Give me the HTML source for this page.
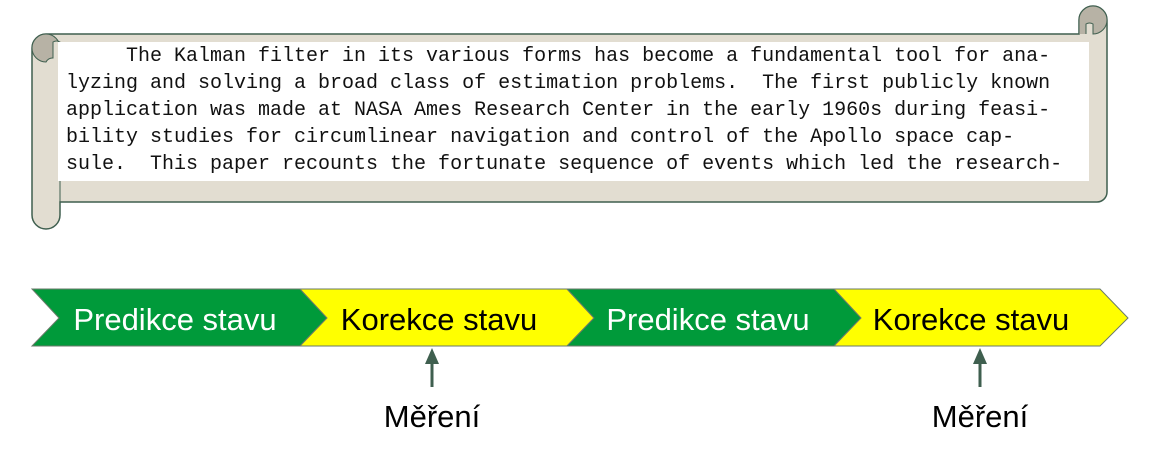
<!DOCTYPE html>
<html><head><meta charset="utf-8"><style>
html,body{margin:0;padding:0;background:#fff;width:1153px;height:454px;overflow:hidden}
svg{display:block}
</style></head><body>
<svg width="1153" height="454" viewBox="0 0 1153 454" xmlns="http://www.w3.org/2000/svg">
<path d="M1079,34 L1079,20 A14,14 0 0 1 1107,20 L1107,192 A10,10 0 0 1 1097,202 L60,202 L60,215 A14,14 0 0 1 32,215 L32,48 A14,14 0 0 1 46,34 Z" fill="#e2ddd1" stroke="#3f5f4f" stroke-width="1.5"/>
<path d="M1079,34 L1079,20 A14,14 0 0 1 1107,20 A14,14 0 0 1 1093,34 L1093,24 A7,7 0 0 0 1086,24 L1086,34" fill="#b7b2a5" stroke="#3f5f4f" stroke-width="1"/>
<path d="M60,202 L60,48" fill="none" stroke="#3f5f4f" stroke-width="1"/>
<path d="M46,62 A14,14 0 0 1 46,34 A14,14 0 0 1 60,48 L60,42 A7,7 0 0 0 53,42 L53,58 A7,7 0 0 0 46,62 Z" fill="#b7b2a5" stroke="#3f5f4f" stroke-width="1"/>
<rect x="58" y="42" width="1031" height="139" fill="#fff"/>
<g font-family="Liberation Mono, monospace" font-size="20" fill="#111">
<text x="66" y="61">&#160;&#160;&#160;&#160;&#160;The Kalman filter in its various forms has become a fundamental tool for ana-</text>
<text x="66" y="88">lyzing and solving a broad class of estimation problems.&#160; The first publicly known</text>
<text x="66" y="115">application was made at NASA Ames Research Center in the early 1960s during feasi-</text>
<text x="66" y="142">bility studies for circumlinear navigation and control of the Apollo space cap-</text>
<text x="66" y="169">sule.&#160; This paper recounts the fortunate sequence of events which led the research-</text>
</g>
<g stroke="#6a7a6a" stroke-width="1">
<polygon points="32,289 300,289 327,318 300,346 32,346 59,318" fill="#009a3a"/>
<polygon points="300,289 567,289 594,318 567,346 300,346 327,318" fill="#ffff00"/>
<polygon points="567,289 834,289 861,318 834,346 567,346 594,318" fill="#009a3a"/>
<polygon points="834,289 1100,289 1128,318 1100,346 834,346 861,318" fill="#ffff00"/>
</g>
<g font-family="Liberation Sans, sans-serif" font-size="31" text-anchor="middle">
<text x="175" y="330" fill="#fff">Predikce stavu</text>
<text x="439" y="330" fill="#000">Korekce stavu</text>
<text x="708" y="330" fill="#fff">Predikce stavu</text>
<text x="971" y="330" fill="#000">Korekce stavu</text>
<text x="432" y="427" fill="#000">Měření</text>
<text x="980" y="427" fill="#000">Měření</text>
</g>
<g fill="#3f5f4f" stroke="#3f5f4f">
<line x1="432" y1="387" x2="432" y2="360" stroke-width="3"/>
<polygon points="432,348 425,364 439,364" stroke="none"/>
<line x1="980" y1="387" x2="980" y2="360" stroke-width="3"/>
<polygon points="980,348 973,364 987,364" stroke="none"/>
</g>
</svg>
</body></html>
